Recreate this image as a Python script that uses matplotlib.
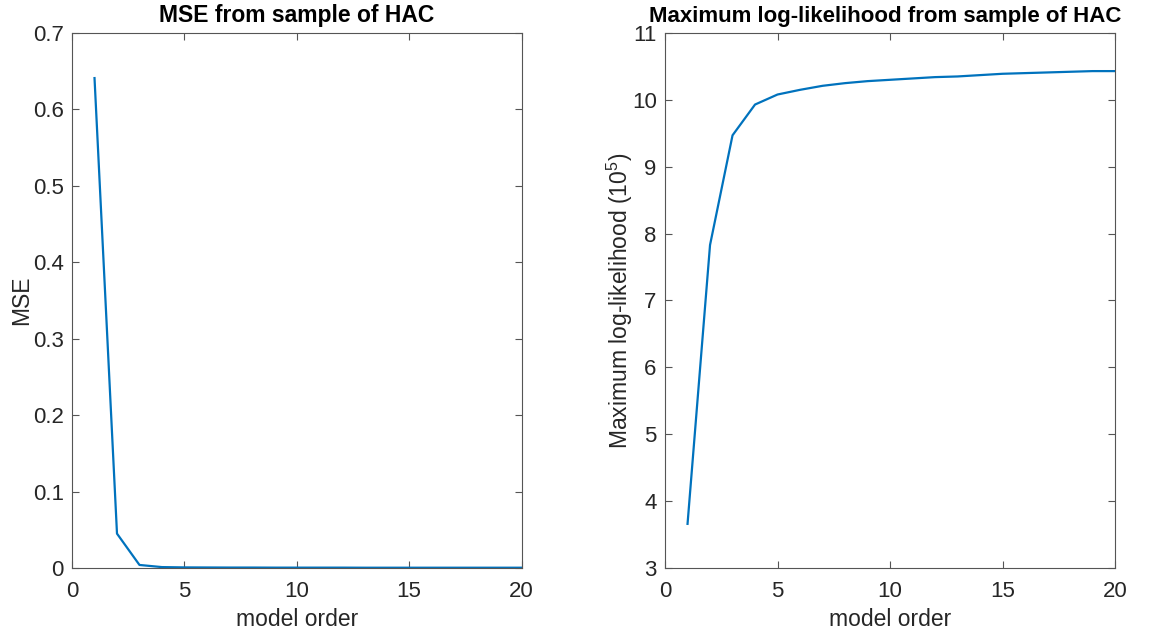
import matplotlib
matplotlib.use("Agg")
import matplotlib.pyplot as plt

plt.rcParams["font.family"] = ["Liberation Sans", "DejaVu Sans"]
plt.rcParams["mathtext.fontset"] = "custom"
plt.rcParams["mathtext.rm"] = "Liberation Sans"

orders = list(range(1, 21))
mse = [0.641, 0.045, 0.004, 0.0012, 0.0008, 0.0007, 0.0006, 0.0006, 0.0005, 0.0005,
       0.0005, 0.0005, 0.0004, 0.0004, 0.0004, 0.0004, 0.0004, 0.0004, 0.0004, 0.0004]
loglik = [3.66, 7.83, 9.47, 9.93, 10.08, 10.15, 10.21, 10.25, 10.28, 10.30,
          10.32, 10.34, 10.35, 10.37, 10.39, 10.40, 10.41, 10.42, 10.43, 10.43]

LINE = "#0072BD"
AX = "#262626"


def style(ax):
    for sp in ax.spines.values():
        sp.set_color("#555555")
        sp.set_linewidth(0.8)
    ax.tick_params(direction="in", top=True, right=True, length=5,
                   width=0.8, labelsize=16, colors="#555555", labelcolor=AX)
    ax.tick_params(axis="x", pad=9)
    ax.tick_params(axis="y", pad=6)


fig = plt.figure(figsize=(11.49, 6.38), dpi=100)

# left panel: fitting error against model order
ax1 = fig.add_axes([0.0627, 0.1097, 0.3912, 0.8386])
ax1.plot(orders, mse, color=LINE, linewidth=1.6)
ax1.set_xlim(0, 20)
ax1.set_ylim(0, 0.7)
ax1.set_xticks([0, 5, 10, 15, 20])
ax1.set_yticks([0, 0.1, 0.2, 0.3, 0.4, 0.5, 0.6, 0.7])
ax1.set_yticklabels(["0", "0.1", "0.2", "0.3", "0.4", "0.5", "0.6", "0.7"])
ax1.set_xlabel("model order", fontsize=16.5, color=AX, labelpad=5)
ax1.set_ylabel("MSE", fontsize=16.5, color=AX, labelpad=0)
ax1.set_title("MSE from sample of HAC", fontsize=16.5, fontweight="bold", pad=8)
style(ax1)

# right panel: log-likelihood against model order
ax2 = fig.add_axes([0.5788, 0.1097, 0.3916, 0.8386])
ax2.plot(orders, loglik, color=LINE, linewidth=1.6)
ax2.set_xlim(0, 20)
ax2.set_ylim(3, 11)
ax2.set_xticks([0, 5, 10, 15, 20])
ax2.set_yticks(range(3, 12))
ax2.set_xlabel("model order", fontsize=16.5, color=AX, labelpad=5)
ax2.set_ylabel("Maximum log-likelihood (10$^5$)", fontsize=16.5, color=AX,
               labelpad=-2)
ax2.set_title("Maximum log-likelihood from sample of HAC", fontsize=16,
              fontweight="bold", pad=8, x=0.49)
style(ax2)

fig.savefig("out.png", dpi=100)
